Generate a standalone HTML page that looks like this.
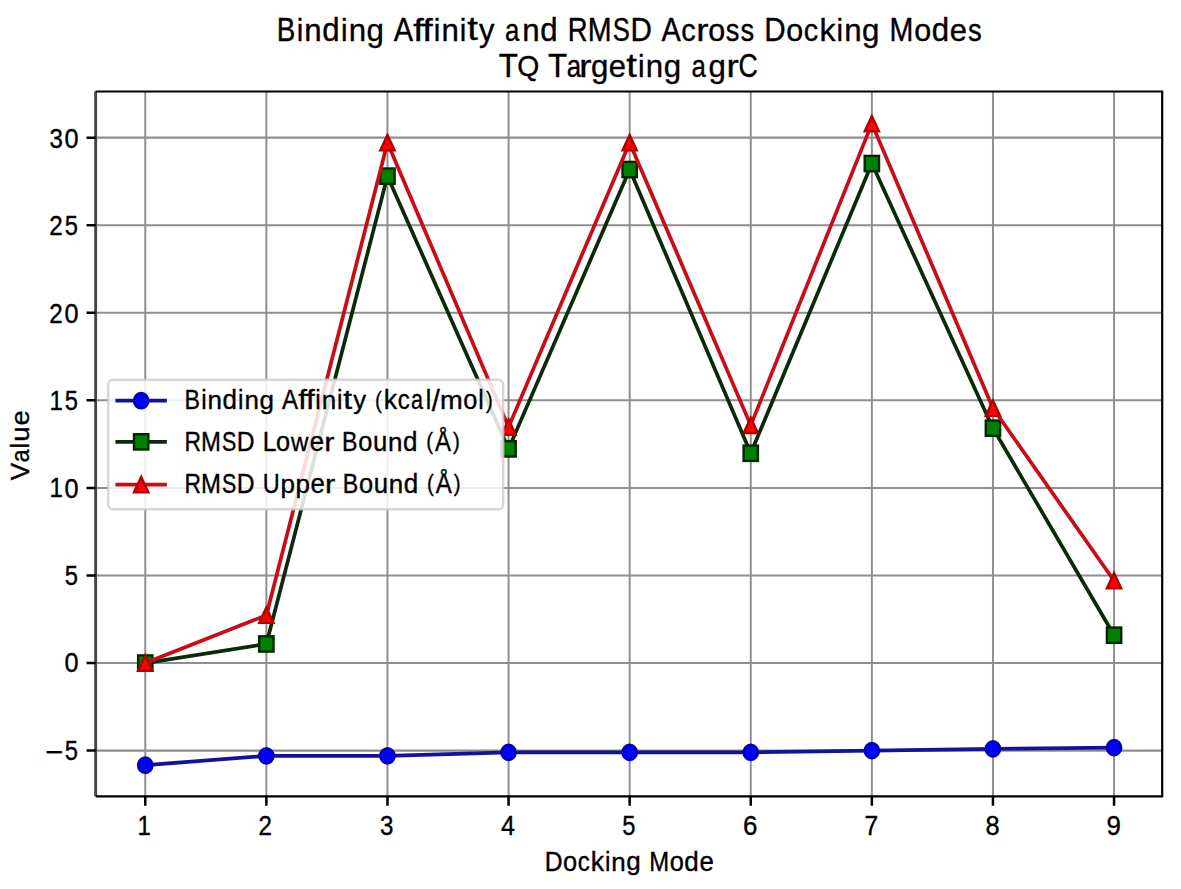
<!DOCTYPE html><html><head><meta charset="utf-8"><style>html,body{margin:0;padding:0;background:#fff;overflow:hidden}svg{display:block}</style></head><body>
<svg width="1181" height="889" viewBox="0 0 1181 889" font-family='"Liberation Sans", sans-serif'>
<rect width="1181" height="889" fill="#fff"/>
<defs><clipPath id="ax"><rect x="95.65" y="91.50" width="1066.55" height="704.80"/></clipPath></defs>
<path d="M145.28 91.50V796.30M266.37 91.50V796.30M387.47 91.50V796.30M508.57 91.50V796.30M629.66 91.50V796.30M750.76 91.50V796.30M871.86 91.50V796.30M992.95 91.50V796.30M1114.05 91.50V796.30" stroke="#8e8e8e" stroke-width="1.95" fill="none"/>
<path d="M95.65 750.62H1162.20M95.65 663.05H1162.20M95.65 575.48H1162.20M95.65 487.91H1162.20M95.65 400.34H1162.20M95.65 312.77H1162.20M95.65 225.20H1162.20M95.65 137.63H1162.20" stroke="#8e8e8e" stroke-width="2.05" fill="none"/>
<g clip-path="url(#ax)">
<polyline points="145.28,765.16 266.37,755.87 387.47,755.87 508.57,752.37 629.66,752.37 750.76,752.37 871.86,750.62 992.95,748.87 1114.05,747.64" fill="none" stroke="#12129a" stroke-width="3.70" stroke-linejoin="round" stroke-linecap="square"/>
<ellipse cx="145.28" cy="765.16" rx="7.16" ry="7.66" fill="#0000ff" stroke="#0000b0" stroke-width="2.39"/>
<ellipse cx="266.37" cy="755.87" rx="7.16" ry="7.66" fill="#0000ff" stroke="#0000b0" stroke-width="2.39"/>
<ellipse cx="387.47" cy="755.87" rx="7.16" ry="7.66" fill="#0000ff" stroke="#0000b0" stroke-width="2.39"/>
<ellipse cx="508.57" cy="752.37" rx="7.16" ry="7.66" fill="#0000ff" stroke="#0000b0" stroke-width="2.39"/>
<ellipse cx="629.66" cy="752.37" rx="7.16" ry="7.66" fill="#0000ff" stroke="#0000b0" stroke-width="2.39"/>
<ellipse cx="750.76" cy="752.37" rx="7.16" ry="7.66" fill="#0000ff" stroke="#0000b0" stroke-width="2.39"/>
<ellipse cx="871.86" cy="750.62" rx="7.16" ry="7.66" fill="#0000ff" stroke="#0000b0" stroke-width="2.39"/>
<ellipse cx="992.95" cy="748.87" rx="7.16" ry="7.66" fill="#0000ff" stroke="#0000b0" stroke-width="2.39"/>
<ellipse cx="1114.05" cy="747.64" rx="7.16" ry="7.66" fill="#0000ff" stroke="#0000b0" stroke-width="2.39"/>
<polyline points="145.28,663.05 266.37,643.96 387.47,176.16 508.57,448.85 629.66,169.51 750.76,453.23 871.86,163.55 992.95,428.19 1114.05,635.20" fill="none" stroke="#0a2a0a" stroke-width="3.70" stroke-linejoin="round" stroke-linecap="square"/>
<rect x="138.11" y="655.39" width="14.33" height="15.33" fill="#008000" stroke="#002800" stroke-width="2.39"/>
<rect x="259.21" y="636.30" width="14.33" height="15.33" fill="#008000" stroke="#002800" stroke-width="2.39"/>
<rect x="380.31" y="168.50" width="14.33" height="15.33" fill="#008000" stroke="#002800" stroke-width="2.39"/>
<rect x="501.40" y="441.19" width="14.33" height="15.33" fill="#008000" stroke="#002800" stroke-width="2.39"/>
<rect x="622.50" y="161.84" width="14.33" height="15.33" fill="#008000" stroke="#002800" stroke-width="2.39"/>
<rect x="743.60" y="445.57" width="14.33" height="15.33" fill="#008000" stroke="#002800" stroke-width="2.39"/>
<rect x="864.69" y="155.89" width="14.33" height="15.33" fill="#008000" stroke="#002800" stroke-width="2.39"/>
<rect x="985.79" y="420.52" width="14.33" height="15.33" fill="#008000" stroke="#002800" stroke-width="2.39"/>
<rect x="1106.89" y="627.54" width="14.33" height="15.33" fill="#008000" stroke="#002800" stroke-width="2.39"/>
<polyline points="145.28,663.05 266.37,615.24 387.47,142.71 508.57,427.14 629.66,142.71 750.76,425.39 871.86,123.62 992.95,408.22 1114.05,580.73" fill="none" stroke="#c80c18" stroke-width="3.70" stroke-linejoin="round" stroke-linecap="square"/>
<path d="M145.28 655.39L138.11 670.71L152.44 670.71Z" fill="#ff0000" stroke="#b00000" stroke-width="2.39" stroke-linejoin="miter"/>
<path d="M266.37 607.57L259.21 622.90L273.53 622.90Z" fill="#ff0000" stroke="#b00000" stroke-width="2.39" stroke-linejoin="miter"/>
<path d="M387.47 135.05L380.31 150.37L394.63 150.37Z" fill="#ff0000" stroke="#b00000" stroke-width="2.39" stroke-linejoin="miter"/>
<path d="M508.57 419.47L501.40 434.80L515.73 434.80Z" fill="#ff0000" stroke="#b00000" stroke-width="2.39" stroke-linejoin="miter"/>
<path d="M629.66 135.05L622.50 150.37L636.83 150.37Z" fill="#ff0000" stroke="#b00000" stroke-width="2.39" stroke-linejoin="miter"/>
<path d="M750.76 417.72L743.60 433.05L757.92 433.05Z" fill="#ff0000" stroke="#b00000" stroke-width="2.39" stroke-linejoin="miter"/>
<path d="M871.86 115.95L864.69 131.28L879.02 131.28Z" fill="#ff0000" stroke="#b00000" stroke-width="2.39" stroke-linejoin="miter"/>
<path d="M992.95 400.56L985.79 415.89L1000.12 415.89Z" fill="#ff0000" stroke="#b00000" stroke-width="2.39" stroke-linejoin="miter"/>
<path d="M1114.05 573.07L1106.89 588.40L1121.21 588.40Z" fill="#ff0000" stroke="#b00000" stroke-width="2.39" stroke-linejoin="miter"/>
</g>
<path d="M95.65 91.50V796.30" stroke="#454545" stroke-width="2.9" fill="none"/>
<path d="M95.65 91.50H1162.20V796.30H95.65" stroke="#000" stroke-width="2.2" fill="none" stroke-linejoin="miter"/>
<path d="M145.28 796.30V805.70M266.37 796.30V805.70M387.47 796.30V805.70M508.57 796.30V805.70M629.66 796.30V805.70M750.76 796.30V805.70M871.86 796.30V805.70M992.95 796.30V805.70M1114.05 796.30V805.70" stroke="#000" stroke-width="2.5" fill="none"/>
<path d="M95.65 750.62H86.55M95.65 663.05H86.55M95.65 575.48H86.55M95.65 487.91H86.55M95.65 400.34H86.55M95.65 312.77H86.55M95.65 225.20H86.55M95.65 137.63H86.55" stroke="#000" stroke-width="2.5" fill="none"/>
<g fill="#000" stroke="#000" stroke-width="0.35"><g transform="translate(0,-1.10) scale(1,1.07)"><text transform="translate(276.73,39.07) scale(0.9153,1.0000)" font-size="30.42">B</text><text transform="translate(296.63,39.07) scale(0.9687,0.9872)" font-size="30.42">i</text><text transform="translate(304.33,39.07) scale(1.0254,0.9812)" font-size="30.42">n</text><text transform="translate(322.26,39.20) scale(1.0255,0.9930)" font-size="30.42">d</text><text transform="translate(340.93,39.07) scale(0.9687,0.9872)" font-size="30.42">i</text><text transform="translate(348.63,39.07) scale(1.0254,0.9812)" font-size="30.42">n</text><text transform="translate(366.57,38.89) scale(1.0255,0.9702)" font-size="30.42">g</text><text transform="translate(393.75,39.07) scale(0.9489,1.0000)" font-size="30.42">A</text><text transform="translate(413.29,39.07) scale(1.2350,0.9907)" font-size="30.42">f</text><text transform="translate(422.36,39.07) scale(1.2350,0.9907)" font-size="30.42">f</text><text transform="translate(433.68,39.07) scale(0.9687,0.9872)" font-size="30.42">i</text><text transform="translate(441.38,39.07) scale(1.0254,0.9812)" font-size="30.42">n</text><text transform="translate(459.80,39.07) scale(0.9687,0.9872)" font-size="30.42">i</text><text transform="translate(467.24,38.84) scale(1.2557,1.0139)" font-size="30.42">t</text><text transform="translate(479.04,38.91) scale(1.0131,0.9674)" font-size="30.42">y</text><text transform="translate(504.94,39.20) scale(0.8499,0.9891)" font-size="30.42">a</text><text transform="translate(522.35,39.07) scale(1.0254,0.9812)" font-size="30.42">n</text><text transform="translate(540.29,39.20) scale(1.0255,0.9930)" font-size="30.42">d</text><text transform="translate(567.86,39.07) scale(0.9020,1.0000)" font-size="30.42">R</text><text transform="translate(587.67,39.07) scale(0.9418,1.0000)" font-size="30.42">M</text><text transform="translate(612.67,39.19) scale(0.8435,1.0083)" font-size="30.42">S</text><text transform="translate(630.49,39.07) scale(0.9736,1.0000)" font-size="30.42">D</text><text transform="translate(661.46,39.07) scale(0.9489,1.0000)" font-size="30.42">A</text><text transform="translate(681.26,39.20) scale(0.9473,0.9891)" font-size="30.42">c</text><text transform="translate(696.26,39.07) scale(1.2055,0.9812)" font-size="30.42">r</text><text transform="translate(708.22,39.20) scale(1.0016,0.9891)" font-size="30.42">o</text><text transform="translate(725.66,39.20) scale(0.8987,0.9891)" font-size="30.42">s</text><text transform="translate(740.59,39.20) scale(0.8987,0.9891)" font-size="30.42">s</text><text transform="translate(764.15,39.07) scale(0.9736,1.0000)" font-size="30.42">D</text><text transform="translate(786.14,39.20) scale(1.0016,0.9891)" font-size="30.42">o</text><text transform="translate(803.74,39.20) scale(0.9473,0.9891)" font-size="30.42">c</text><text transform="translate(819.55,39.07) scale(1.0561,0.9872)" font-size="30.42">k</text><text transform="translate(836.47,39.07) scale(0.9687,0.9872)" font-size="30.42">i</text><text transform="translate(844.17,39.07) scale(1.0254,0.9812)" font-size="30.42">n</text><text transform="translate(862.10,38.89) scale(1.0255,0.9702)" font-size="30.42">g</text><text transform="translate(889.58,39.07) scale(0.9418,1.0000)" font-size="30.42">M</text><text transform="translate(914.15,39.20) scale(1.0016,0.9891)" font-size="30.42">o</text><text transform="translate(931.65,39.20) scale(1.0255,0.9930)" font-size="30.42">d</text><text transform="translate(949.84,39.20) scale(1.0169,0.9891)" font-size="30.42">e</text><text transform="translate(968.03,39.20) scale(0.8987,0.9891)" font-size="30.42">s</text></g><g transform="translate(0,0.80) scale(1,1.07)"><text transform="translate(498.77,71.47) scale(1.0293,1.0000)" font-size="30.42">T</text><text transform="translate(517.28,69.84) scale(0.9314,0.9259)" font-size="30.42">Q</text><text transform="translate(547.93,71.47) scale(1.0293,1.0000)" font-size="30.42">T</text><text transform="translate(566.83,71.60) scale(0.8499,0.9891)" font-size="30.42">a</text><text transform="translate(579.13,71.47) scale(1.2055,0.9812)" font-size="30.42">r</text><text transform="translate(591.05,71.29) scale(1.0255,0.9702)" font-size="30.42">g</text><text transform="translate(608.75,71.60) scale(1.0169,0.9891)" font-size="30.42">e</text><text transform="translate(626.33,71.24) scale(1.2557,1.0139)" font-size="30.42">t</text><text transform="translate(638.08,71.47) scale(0.9687,0.9872)" font-size="30.42">i</text><text transform="translate(645.78,71.47) scale(1.0254,0.9812)" font-size="30.42">n</text><text transform="translate(663.72,71.29) scale(1.0255,0.9702)" font-size="30.42">g</text><text transform="translate(691.38,71.60) scale(0.8499,0.9891)" font-size="30.42">a</text><text transform="translate(708.57,71.29) scale(1.0255,0.9702)" font-size="30.42">g</text><text transform="translate(726.61,71.47) scale(1.2055,0.9812)" font-size="30.42">r</text><text transform="translate(738.52,71.59) scale(0.8785,1.0083)" font-size="30.42">C</text></g><g transform="translate(0,0.00) scale(1,1.07)"><text transform="translate(544.65,813.56) scale(0.9736,1.0000)" font-size="25.35">D</text><text transform="translate(562.98,813.67) scale(1.0016,0.9891)" font-size="25.35">o</text><text transform="translate(577.65,813.67) scale(0.9473,0.9891)" font-size="25.35">c</text><text transform="translate(590.82,813.56) scale(1.0561,0.9872)" font-size="25.35">k</text><text transform="translate(604.92,813.56) scale(0.9687,0.9872)" font-size="25.35">i</text><text transform="translate(611.34,813.56) scale(1.0254,0.9812)" font-size="25.35">n</text><text transform="translate(626.28,813.41) scale(1.0255,0.9702)" font-size="25.35">g</text><text transform="translate(649.18,813.56) scale(0.9418,1.0000)" font-size="25.35">M</text><text transform="translate(669.65,813.67) scale(1.0016,0.9891)" font-size="25.35">o</text><text transform="translate(684.23,813.67) scale(1.0255,0.9930)" font-size="25.35">d</text><text transform="translate(699.40,813.67) scale(1.0169,0.9891)" font-size="25.35">e</text></g><g transform="translate(29.29,480.28) scale(1,1.07) rotate(-90)"><text transform="translate(0.06,0.00) scale(0.9561,1.0000)" font-size="25.35">V</text><text transform="translate(16.85,0.11) scale(0.8499,0.9891)" font-size="25.35">a</text><text transform="translate(29.72,0.00) scale(0.9687,0.9872)" font-size="25.35">l</text><text transform="translate(36.10,0.11) scale(1.0138,0.9856)" font-size="25.35">u</text><text transform="translate(51.09,0.11) scale(1.0169,0.9891)" font-size="25.35">e</text></g><g transform="translate(0,0.00) scale(1,1.07)"><text transform="translate(137.54,780.01) scale(0.9472,1.0000)" font-size="25.35">1</text></g><g transform="translate(0,0.00) scale(1,1.07)"><text transform="translate(258.43,780.01) scale(0.9573,1.0025)" font-size="25.35">2</text></g><g transform="translate(0,0.00) scale(1,1.07)"><text transform="translate(379.99,780.11) scale(0.9517,1.0083)" font-size="25.35">3</text></g><g transform="translate(0,0.00) scale(1,1.07)"><text transform="translate(500.92,780.01) scale(0.9884,1.0000)" font-size="25.35">4</text></g><g transform="translate(0,0.00) scale(1,1.07)"><text transform="translate(622.33,780.11) scale(0.9368,1.0059)" font-size="25.35">5</text></g><g transform="translate(0,0.00) scale(1,1.07)"><text transform="translate(743.05,780.11) scale(1.0232,1.0083)" font-size="25.35">6</text></g><g transform="translate(0,0.00) scale(1,1.07)"><text transform="translate(864.49,780.01) scale(0.9730,1.0000)" font-size="25.35">7</text></g><g transform="translate(0,0.00) scale(1,1.07)"><text transform="translate(985.54,780.11) scale(1.0019,1.0083)" font-size="25.35">8</text></g><g transform="translate(0,0.00) scale(1,1.07)"><text transform="translate(1106.52,780.11) scale(1.0232,1.0083)" font-size="25.35">9</text></g><g transform="translate(0,0.00) scale(1,1.07)"><text transform="translate(45.60,712.08) scale(1.2185,1.0717)" font-size="25.35">−</text><text transform="translate(64.74,709.93) scale(0.9368,1.0059)" font-size="25.35">5</text></g><g transform="translate(0,0.00) scale(1,1.07)"><text transform="translate(64.38,628.28) scale(0.9960,1.0083)" font-size="25.35">0</text></g><g transform="translate(0,0.00) scale(1,1.07)"><text transform="translate(64.74,546.63) scale(0.9368,1.0059)" font-size="25.35">5</text></g><g transform="translate(0,0.00) scale(1,1.07)"><text transform="translate(49.54,464.88) scale(0.9472,1.0000)" font-size="25.35">1</text><text transform="translate(64.44,464.98) scale(0.9960,1.0083)" font-size="25.35">0</text></g><g transform="translate(0,0.00) scale(1,1.07)"><text transform="translate(49.54,383.23) scale(0.9472,1.0000)" font-size="25.35">1</text><text transform="translate(64.80,383.34) scale(0.9368,1.0059)" font-size="25.35">5</text></g><g transform="translate(0,0.00) scale(1,1.07)"><text transform="translate(49.23,301.59) scale(0.9573,1.0025)" font-size="25.35">2</text><text transform="translate(64.44,301.69) scale(0.9960,1.0083)" font-size="25.35">0</text></g><g transform="translate(0,0.00) scale(1,1.07)"><text transform="translate(49.23,219.94) scale(0.9573,1.0025)" font-size="25.35">2</text><text transform="translate(64.80,220.04) scale(0.9368,1.0059)" font-size="25.35">5</text></g><g transform="translate(0,0.00) scale(1,1.07)"><text transform="translate(49.60,138.39) scale(0.9517,1.0083)" font-size="25.35">3</text><text transform="translate(64.44,138.39) scale(0.9960,1.0083)" font-size="25.35">0</text></g></g>
<rect x="108.20" y="379.70" width="395.00" height="129.60" rx="4.78" ry="5.11" fill="#fff" fill-opacity="0.85" stroke="#cccccc" stroke-opacity="0.8" stroke-width="2.39"/>
<path d="M117.29 400.72H165.04" stroke="#12129a" stroke-width="3.70" stroke-linecap="square"/>
<ellipse cx="141.16" cy="400.72" rx="7.16" ry="7.66" fill="#0000ff" stroke="#0000b0" stroke-width="2.39"/>
<path d="M117.29 441.85H165.04" stroke="#0a2a0a" stroke-width="3.70" stroke-linecap="square"/>
<rect x="134.00" y="434.18" width="14.33" height="15.33" fill="#008000" stroke="#002800" stroke-width="2.39"/>
<path d="M117.29 484.58H165.04" stroke="#c80c18" stroke-width="3.70" stroke-linecap="square"/>
<path d="M141.16 476.92L134.00 492.24L148.32 492.24Z" fill="#ff0000" stroke="#b00000" stroke-width="2.39" stroke-linejoin="miter"/>
<g fill="#000" stroke="#000" stroke-width="0.35"><g transform="translate(0,-0.40) scale(1,1.07)"><text transform="translate(184.55,382.86) scale(0.9153,1.0000)" font-size="25.35">B</text><text transform="translate(201.13,382.86) scale(0.9687,0.9872)" font-size="25.35">i</text><text transform="translate(207.54,382.86) scale(1.0254,0.9812)" font-size="25.35">n</text><text transform="translate(222.49,382.97) scale(1.0255,0.9930)" font-size="25.35">d</text><text transform="translate(238.05,382.86) scale(0.9687,0.9872)" font-size="25.35">i</text><text transform="translate(244.47,382.86) scale(1.0254,0.9812)" font-size="25.35">n</text><text transform="translate(259.41,382.71) scale(1.0255,0.9702)" font-size="25.35">g</text><text transform="translate(282.07,382.86) scale(0.9489,1.0000)" font-size="25.35">A</text><text transform="translate(298.35,382.86) scale(1.2350,0.9907)" font-size="25.35">f</text><text transform="translate(305.90,382.86) scale(1.2350,0.9907)" font-size="25.35">f</text><text transform="translate(315.34,382.86) scale(0.9687,0.9872)" font-size="25.35">i</text><text transform="translate(321.76,382.86) scale(1.0254,0.9812)" font-size="25.35">n</text><text transform="translate(337.11,382.86) scale(0.9687,0.9872)" font-size="25.35">i</text><text transform="translate(343.31,382.67) scale(1.2557,1.0139)" font-size="25.35">t</text><text transform="translate(353.14,382.72) scale(1.0131,0.9674)" font-size="25.35">y</text><text transform="translate(374.96,381.23) scale(0.8072,0.8989)" font-size="25.35">(</text><text transform="translate(383.87,382.86) scale(1.0561,0.9872)" font-size="25.35">k</text><text transform="translate(397.64,382.97) scale(0.9473,0.9891)" font-size="25.35">c</text><text transform="translate(410.99,382.97) scale(0.8499,0.9891)" font-size="25.35">a</text><text transform="translate(425.72,382.86) scale(0.9687,0.9872)" font-size="25.35">l</text><text transform="translate(431.74,384.80) scale(1.1454,1.0539)" font-size="25.35">/</text><text transform="translate(440.09,382.86) scale(1.0763,0.9812)" font-size="25.35">m</text><text transform="translate(463.28,382.97) scale(1.0016,0.9891)" font-size="25.35">o</text><text transform="translate(478.26,382.86) scale(0.9687,0.9872)" font-size="25.35">l</text><text transform="translate(486.04,381.23) scale(0.8072,0.8989)" font-size="25.35">)</text></g><g transform="translate(0,0.00) scale(1,1.07)"><text transform="translate(184.58,421.30) scale(0.9020,1.0000)" font-size="25.35">R</text><text transform="translate(201.09,421.30) scale(0.9418,1.0000)" font-size="25.35">M</text><text transform="translate(221.92,421.40) scale(0.8435,1.0083)" font-size="25.35">S</text><text transform="translate(236.77,421.30) scale(0.9736,1.0000)" font-size="25.35">D</text><text transform="translate(262.75,421.30) scale(0.9739,1.0000)" font-size="25.35">L</text><text transform="translate(275.99,421.40) scale(1.0016,0.9891)" font-size="25.35">o</text><text transform="translate(290.96,421.30) scale(0.9515,0.9775)" font-size="25.35">w</text><text transform="translate(309.69,421.40) scale(1.0169,0.9891)" font-size="25.35">e</text><text transform="translate(324.25,421.30) scale(1.2055,0.9812)" font-size="25.35">r</text><text transform="translate(341.98,421.30) scale(0.9153,1.0000)" font-size="25.35">B</text><text transform="translate(358.18,421.40) scale(1.0016,0.9891)" font-size="25.35">o</text><text transform="translate(372.91,421.40) scale(1.0138,0.9856)" font-size="25.35">u</text><text transform="translate(388.08,421.30) scale(1.0254,0.9812)" font-size="25.35">n</text><text transform="translate(403.03,421.40) scale(1.0255,0.9930)" font-size="25.35">d</text><text transform="translate(426.31,419.67) scale(0.8072,0.8989)" font-size="25.35">(</text><text transform="translate(435.00,421.30) scale(0.9489,1.0011)" font-size="25.35">Å</text><text transform="translate(452.97,419.67) scale(0.8072,0.8989)" font-size="25.35">)</text></g><g transform="translate(0,-0.80) scale(1,1.07)"><text transform="translate(184.58,461.23) scale(0.9020,1.0000)" font-size="25.35">R</text><text transform="translate(201.09,461.23) scale(0.9418,1.0000)" font-size="25.35">M</text><text transform="translate(221.92,461.34) scale(0.8435,1.0083)" font-size="25.35">S</text><text transform="translate(236.77,461.23) scale(0.9736,1.0000)" font-size="25.35">D</text><text transform="translate(262.73,461.34) scale(0.9252,1.0059)" font-size="25.35">U</text><text transform="translate(280.39,461.08) scale(1.0255,0.9702)" font-size="25.35">p</text><text transform="translate(295.55,461.08) scale(1.0255,0.9702)" font-size="25.35">p</text><text transform="translate(310.46,461.34) scale(1.0169,0.9891)" font-size="25.35">e</text><text transform="translate(325.02,461.23) scale(1.2055,0.9812)" font-size="25.35">r</text><text transform="translate(342.75,461.23) scale(0.9153,1.0000)" font-size="25.35">B</text><text transform="translate(358.95,461.34) scale(1.0016,0.9891)" font-size="25.35">o</text><text transform="translate(373.68,461.34) scale(1.0138,0.9856)" font-size="25.35">u</text><text transform="translate(388.85,461.23) scale(1.0254,0.9812)" font-size="25.35">n</text><text transform="translate(403.79,461.34) scale(1.0255,0.9930)" font-size="25.35">d</text><text transform="translate(427.08,459.61) scale(0.8072,0.8989)" font-size="25.35">(</text><text transform="translate(435.76,461.23) scale(0.9489,1.0011)" font-size="25.35">Å</text><text transform="translate(453.74,459.61) scale(0.8072,0.8989)" font-size="25.35">)</text></g></g>
</svg></body></html>
